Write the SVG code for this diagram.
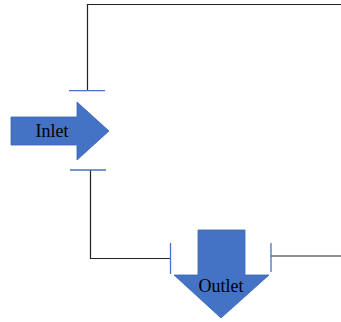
<svg xmlns="http://www.w3.org/2000/svg" width="341" height="322" viewBox="0 0 341 322">
<style>
.wire{fill:none;stroke:#222;stroke-width:1.2}
.tick{fill:none;stroke:#4472C4;stroke-width:1.3}
.arrow{fill:#4472C4;stroke:#3A64B0;stroke-width:0.8}
.lbl{font-family:"Liberation Serif","Times New Roman",serif;font-size:18px;fill:#000;text-anchor:middle}
</style>
<rect width="341" height="322" fill="#fff"/>
<g id="connectors">
<polyline class="wire" points="87.5,91 87.5,4.5 341,4.5"/>
<polyline class="wire" points="90.5,170 90.5,258.5 170,258.5"/>
<line class="wire" x1="271" y1="256" x2="341" y2="256"/>
</g>
<g id="inlet-ports">
<line class="tick" x1="69" y1="90.7" x2="105" y2="90.7"/>
<line class="tick" x1="70" y1="170" x2="106" y2="170"/>
</g>
<g id="outlet-ports">
<line class="tick" x1="170.5" y1="243" x2="170.5" y2="274"/>
<line class="tick" x1="271" y1="243" x2="271" y2="272"/>
</g>
<g id="inlet">
<polygon class="arrow" points="11,117 77,117 77,102 109,131 77,160 77,145 11,145"/>
<text class="lbl" x="52" y="137">Inlet</text>
</g>
<g id="outlet">
<polygon class="arrow" points="198,230 245,230 245,275 269,275 221,318 174,275 198,275"/>
<text class="lbl" x="221" y="292">Outlet</text>
</g>
</svg>
